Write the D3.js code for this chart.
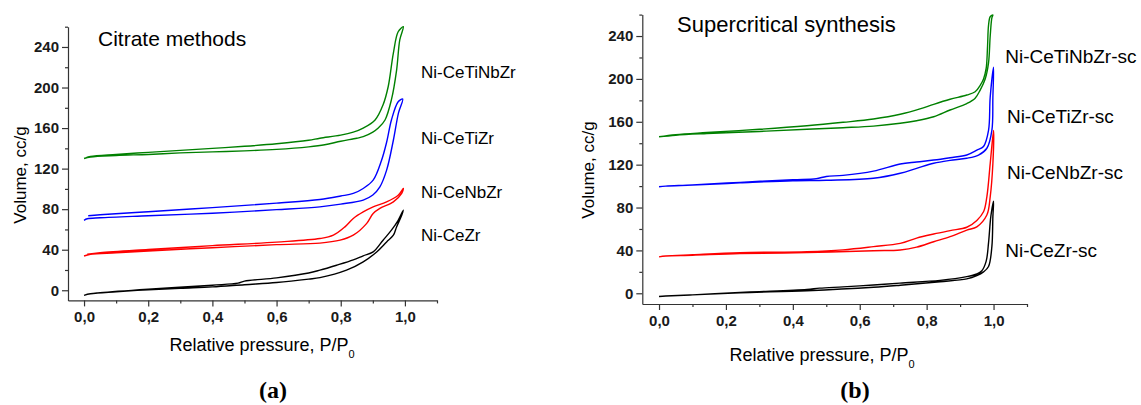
<!DOCTYPE html>
<html>
<head>
<meta charset="utf-8">
<script src="https://cdn.jsdelivr.net/npm/d3@7"></script>
<style>
body { margin: 0; background: #fff; }
svg { font-family: "Liberation Sans", Arial, sans-serif; }
.axis path, .axis line { stroke: #333; stroke-width: 1.2; }
.axis text { font-weight: bold; font-size: 15px; fill: #1a1a1a; }
</style>
</head>
<body>
<svg id="chart" width="1141" height="405"></svg>
<script>
// isotherms: [P/P0, volume cc/g]
// (a) citrate methods — adsorption (lower branch) and desorption (upper branch)
var citNames = ["Ni-CeTiNbZr", "Ni-CeTiZr", "Ni-CeNbZr", "Ni-CeZr"];
var citLabelPos = [[1.05, 215], [1.05, 150], [1.05, 97], [1.05, 54]];

var citTiNbAds = [[0,130],[0.02,131.5],[0.1,133],[0.2,134],[0.3,135.5],[0.4,136.5],[0.5,137.5],[0.6,139],[0.7,141.5],[0.75,143.5],[0.8,147],[0.85,150],[0.87,151.5],[0.9,156],[0.917,160],[0.938,168],[0.958,188],[0.974,217],[0.984,247],[0.995,260]];
var citTiNbDes = [[0.995,260],[0.979,255],[0.964,234],[0.948,201],[0.932,183],[0.907,168],[0.87,160],[0.839,156],[0.8,153],[0.735,150],[0.7,148],[0.6,144.5],[0.5,142],[0.4,140],[0.3,138],[0.2,136],[0.1,134],[0.02,132],[0.005,130.5]];

var citTiAds = [[0,69],[0.01,70.5],[0.05,71.5],[0.2,73.5],[0.4,76],[0.6,79.5],[0.735,82.3],[0.8,85],[0.87,89],[0.9,94],[0.922,102],[0.943,118.5],[0.964,148],[0.98,175],[0.993,188.6]];
var citTiDes = [[0.993,188.6],[0.979,186],[0.958,168],[0.943,146],[0.927,128],[0.901,108.6],[0.87,100.4],[0.839,95.5],[0.8,93],[0.735,89.6],[0.6,86],[0.4,81.5],[0.2,77.5],[0.05,74.5],[0.013,73.5]];

var citNbAds = [[0,33.8],[0.02,35.5],[0.1,37],[0.2,38.8],[0.4,42],[0.6,45],[0.735,46.5],[0.798,49.4],[0.839,54.3],[0.881,66],[0.901,75.7],[0.922,80.7],[0.964,87.2],[0.99,95.5],[0.995,100.4]];
var citNbDes = [[0.995,100.4],[0.979,93.8],[0.943,87.2],[0.901,82.3],[0.87,77.3],[0.839,70.8],[0.813,62.5],[0.777,54.3],[0.735,51],[0.6,47.5],[0.4,44],[0.2,40.2],[0.05,37],[0.01,35.5]];

var citZrAds = [[0,-5],[0.02,-3.5],[0.1,-1.5],[0.2,0.5],[0.3,2],[0.4,3.3],[0.5,5.5],[0.6,7.6],[0.7,11],[0.735,12.5],[0.818,19.8],[0.87,28],[0.912,37.8],[0.943,47.7],[0.964,54.3],[0.974,62.5],[0.99,74],[0.995,79]];
var citZrDes = [[0.995,79],[0.979,69],[0.958,59.3],[0.932,49.4],[0.901,37.8],[0.87,34],[0.839,30],[0.787,24.7],[0.735,19.8],[0.7,17],[0.6,12.2],[0.5,9],[0.48,7],[0.4,5],[0.2,1],[0.05,-2.5],[0.02,-3.5]];

// (b) supercritical synthesis
var scNames = ["Ni-CeTiNbZr-sc", "Ni-CeTiZr-sc", "Ni-CeNbZr-sc", "Ni-CeZr-sc"];
var scLabelPos = [[1.035, 221], [1.04, 165], [1.04, 113], [1.035, 40]];

var scTiNbAds = [[0,146],[0.05,147.5],[0.143,149],[0.3,151],[0.442,153],[0.55,154.5],[0.641,156],[0.721,158.6],[0.77,161],[0.821,164.7],[0.87,171],[0.92,177],[0.945,182],[0.96,189.6],[0.975,200],[0.985,215],[0.99,240],[0.995,257],[0.998,259.6]];
var scTiNbDes = [[0.998,259.6],[0.99,258],[0.985,250],[0.982,230],[0.978,210],[0.97,200],[0.96,194],[0.945,188],[0.92,185],[0.87,181],[0.821,176.3],[0.78,172],[0.721,167],[0.641,162.6],[0.55,159.5],[0.442,156.3],[0.3,153],[0.143,150],[0.05,148],[0,146]];

var scTiAds = [[0,99.4],[0.02,100],[0.1,101],[0.242,103],[0.4,105],[0.5,105.5],[0.641,107.3],[0.721,112],[0.77,116.6],[0.821,121.3],[0.87,124],[0.92,126],[0.955,129],[0.98,135.3],[0.995,152],[0.998,183],[1.0,211]];
var scTiDes = [[1.0,211],[0.99,183],[0.985,152],[0.97,137],[0.95,133.5],[0.92,129],[0.87,126.5],[0.821,124.3],[0.77,122.5],[0.721,120.6],[0.641,114],[0.55,110],[0.5,109],[0.47,107],[0.4,106],[0.242,103.5],[0.1,101],[0.02,100],[0,99.4]];

var scNbAds = [[0,34],[0.02,34.8],[0.1,35.5],[0.242,37],[0.442,37.9],[0.641,39.7],[0.721,40.4],[0.77,43],[0.821,48.1],[0.87,52.8],[0.92,59],[0.95,62],[0.98,73],[0.99,90],[0.998,121],[1.0,152]];
var scNbDes = [[1.0,152],[0.99,121],[0.98,90],[0.97,76],[0.95,68],[0.92,61.6],[0.87,58.5],[0.821,55.3],[0.77,51.5],[0.721,46.6],[0.641,43.5],[0.55,40.5],[0.442,38.8],[0.242,37.9],[0.1,36],[0.02,34.8],[0,34]];

var scZrAds = [[0,-3],[0.02,-2.6],[0.1,-1.5],[0.242,0.5],[0.442,2.4],[0.641,5.6],[0.721,7.5],[0.84,10.8],[0.92,13.5],[0.95,16.5],[0.97,20],[0.985,25],[0.995,43.5],[0.998,71.5],[1.0,86]];
var scZrDes = [[1.0,86],[0.992,72],[0.985,47],[0.978,30],[0.965,21],[0.95,18],[0.92,15.5],[0.84,12],[0.72,9.5],[0.641,7.7],[0.55,6],[0.48,4.8],[0.442,3.5],[0.3,1.5],[0.242,0.8],[0.1,-1.5],[0.02,-2.6],[0,-3]];

var colors = ["#008000", "#0000ff", "#ff0000", "#000000"];
var xMajor = [0, 0.2, 0.4, 0.6, 0.8, 1.0];
var xMinor = [0.1, 0.3, 0.5, 0.7, 0.9, 1.1];
var yMajor = [0, 40, 80, 120, 160, 200, 240];
var yMinor = [20, 60, 100, 140, 180, 220, 260];

var svg = d3.select("#chart");
var comma = function(d) { return d3.format(".1f")(d).replace(".", ","); };

function drawPanel(p) {
  var x = d3.scaleLinear().domain([-0.05, 1.1]).range([p.left, p.right]);
  var y = d3.scaleLinear().domain([-10, 260]).range([p.bottom, p.top]);
  var g = svg.append("g");

  // minor ticks
  g.append("g").attr("class", "axis")
    .attr("transform", "translate(0," + p.bottom + ")")
    .call(d3.axisBottom(x).tickValues(xMinor).tickSize(3).tickFormat(""))
    .select(".domain").remove();
  g.append("g").attr("class", "axis")
    .attr("transform", "translate(" + p.left + ",0)")
    .call(d3.axisLeft(y).tickValues(yMinor).tickSize(3).tickFormat(""))
    .select(".domain").remove();

  // major ticks + labels
  g.append("g").attr("class", "axis")
    .attr("transform", "translate(0," + p.bottom + ")")
    .call(d3.axisBottom(x).tickValues(xMajor).tickSize(6).tickSizeOuter(0).tickPadding(5).tickFormat(comma));
  g.append("g").attr("class", "axis")
    .attr("transform", "translate(" + p.left + ",0)")
    .call(d3.axisLeft(y).tickValues(yMajor).tickSize(6).tickSizeOuter(0).tickPadding(3));

  var line = d3.line()
    .x(function(d) { return x(d[0]); })
    .y(function(d) { return y(d[1]); })
    .curve(d3.curveCatmullRom.alpha(0.5));

  p.loops.forEach(function(l, i) {
    g.append("path")
      .attr("d", line(l[0].concat(l[1].slice(1))))
      .attr("fill", "none")
      .attr("stroke", colors[i])
      .attr("stroke-width", 1.4);
    g.append("text")
      .attr("x", x(p.labelPos[i][0]))
      .attr("y", y(p.labelPos[i][1]))
      .attr("dy", "0.35em")
      .style("font-size", p.labelSize + "px")
      .text(p.names[i]);
  });

  // panel title
  g.append("text")
    .attr("x", p.titleX).attr("y", p.titleY)
    .style("font-size", p.titleSize + "px")
    .text(p.title);

  // axis titles
  g.append("text")
    .attr("transform", "translate(" + p.yTitleX + "," + p.yTitleY + ") rotate(-90)")
    .attr("text-anchor", "middle")
    .style("font-size", "17px")
    .text("Volume, cc/g");
  var xt = g.append("text")
    .attr("x", p.xTitleX).attr("y", p.xTitleY)
    .attr("text-anchor", "middle")
    .style("font-size", "18px");
  xt.append("tspan").text("Relative pressure, P/P");
  xt.append("tspan").attr("dy", 7).style("font-size", "11px").text("0");

  g.append("text")
    .attr("x", p.capX).attr("y", 398)
    .attr("text-anchor", "middle")
    .style("font-family", "'Liberation Serif', 'DejaVu Serif', serif")
    .style("font-size", "24px")
    .style("font-weight", "bold")
    .text(p.cap);
}

drawPanel({
  left: 68, right: 437, top: 26.7, bottom: 300.4,
  loops: [[citTiNbAds, citTiNbDes], [citTiAds, citTiDes], [citNbAds, citNbDes], [citZrAds, citZrDes]],
  names: citNames, labelPos: citLabelPos, labelSize: 17,
  title: "Citrate methods", titleX: 98, titleY: 46, titleSize: 21,
  yTitleX: 26, yTitleY: 175, xTitleX: 262, xTitleY: 351,
  capX: 273, cap: "(a)"
});

drawPanel({
  left: 642.3, right: 1027, top: 14.6, bottom: 304,
  loops: [[scTiNbAds, scTiNbDes], [scTiAds, scTiDes], [scNbAds, scNbDes], [scZrAds, scZrDes]],
  names: scNames, labelPos: scLabelPos, labelSize: 19,
  title: "Supercritical synthesis", titleX: 677, titleY: 32, titleSize: 22,
  yTitleX: 594, yTitleY: 170, xTitleX: 822, xTitleY: 361,
  capX: 855, cap: "(b)"
});
</script>
</body>
</html>
